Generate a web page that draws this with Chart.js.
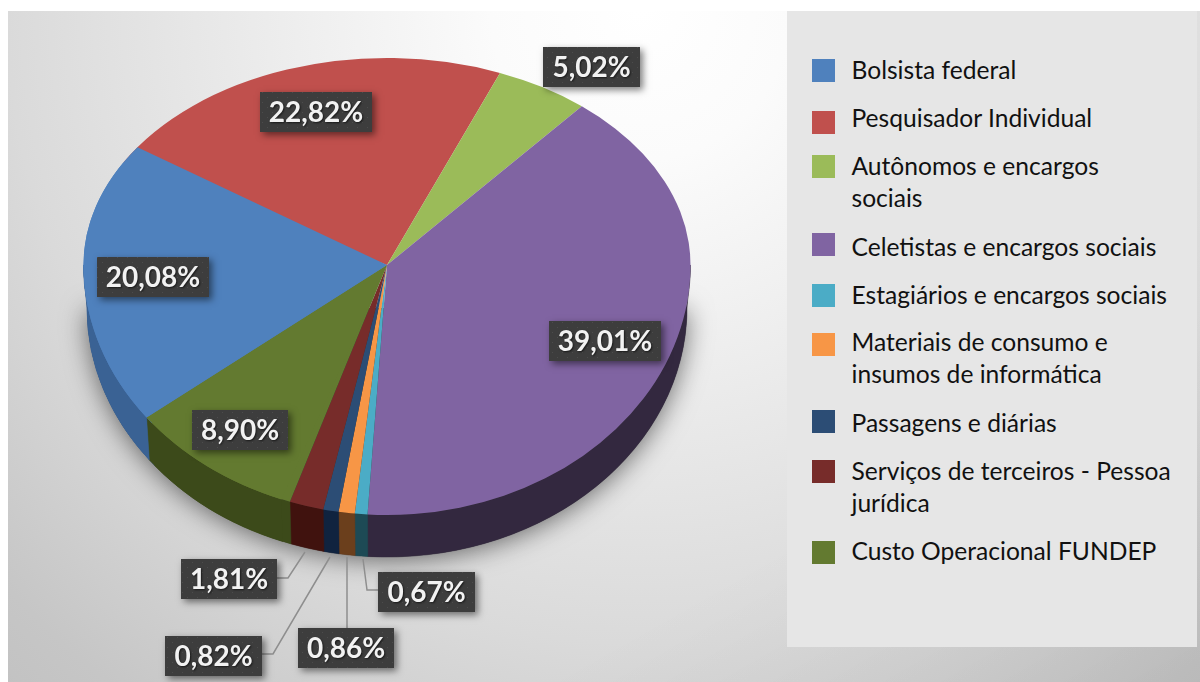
<!DOCTYPE html>
<html>
<head>
<meta charset="utf-8">
<title>Despesas</title>
<script src="https://cdn.jsdelivr.net/npm/chart.js@4"></script>
<style>
  html, body { margin: 0; padding: 0; background: #fff; }
  #wrap { position: relative; width: 1200px; height: 682px; overflow: hidden; }
  #bg { position: absolute; left: 8px; top: 11px; width: 1192px; height: 671px;
        background: linear-gradient(to bottom right, rgba(0,0,0,0) 72%, rgba(0,0,0,0.06) 100%),
                    radial-gradient(circle 930px at 632px 0px, #fff 0%, #fbfbfb 16%, #eee 37%, #dadada 68%, #c6c6c6 92%, #c2c2c2 100%); }
  #pie { position: absolute; left: 0; top: 0; filter: blur(0.4px); }
  #legend { position: absolute; left: 787px; top: 11px; width: 410px; height: 636px; background: #e6e6e6;
            font-family: Lato, sans-serif; font-size: 24.6px; line-height: 32px; color: #111; }
  #legend .txt { position: absolute; left: 64.5px; white-space: pre; }
  #legend .box { position: absolute; left: 25px; width: 23px; height: 23px; }
</style>
</head>
<body>
<div id="wrap">
  <div id="bg"></div>
  <div id="legend"></div>
  <canvas id="pie" width="1200" height="682"></canvas>
</div>
<script>
const categories = ['Bolsista federal', 'Pesquisador Individual', 'Autônomos e encargos\nsociais',
  'Celetistas e encargos sociais', 'Estagiários e encargos sociais',
  'Materiais de consumo e\ninsumos de informática', 'Passagens e diárias',
  'Serviços de terceiros - Pessoa\njurídica', 'Custo Operacional FUNDEP'];
const percentages = [20.08, 22.82, 5.02, 39.01, 0.67, 0.86, 0.82, 1.81, 8.90];

const faceColors = ['#4f81bd', '#c0504d', '#9bbb59', '#8064a2', '#4bacc6', '#f79646', '#2c4d75', '#772c2a', '#637a30'];
const wallColors = ['#3a6294', '#8f3b39', '#748c43', '#33283f', '#1d4a55', '#6b3f1c', '#10233f', '#40120e', '#3c4a1a'];

// caixas dos rotulos: x, y do canto e largura
const labelBoxes = [[97, 257, 112], [260, 92, 112], [543, 47, 97], [549, 321, 112], [378, 572, 97],
  [298, 628, 96], [165, 636, 97], [181, 559, 96], [192, 410, 96]];
const leaderLines = [
  [[363, 559], [367, 590], [378, 590]],
  [[347, 557], [347, 628]],
  [[330, 557], [273, 654], [262, 654]],
  [[305, 552], [288, 578], [277, 578]]
];
const swatchTops = [48, 100, 144, 222, 273, 322, 399, 449, 530];
const textTops = [43, 91, 139, 220, 268, 315, 396, 444, 524];

// legenda
const legend = document.getElementById('legend');
categories.forEach((name, i) => {
  let box = document.createElement('div');
  box.className = 'box';
  box.style.top = swatchTops[i] + 'px';
  box.style.background = faceColors[i];
  legend.appendChild(box);
  let txt = document.createElement('div');
  txt.className = 'txt';
  txt.style.top = textTops[i] + 'px';
  txt.textContent = name;
  legend.appendChild(txt);
});

// geometria da pizza em perspectiva
const RX = 303.5, RY_UP = 207, RY_DOWN = 250;
const WALL_RX = 300, WALL_RY = 249, DEPTH = 43;
// a perspectiva desloca um pouco os angulos; o azul fica no lugar
const TURN_UP = -5 * Math.PI / 180, TURN_DOWN = -1.7 * Math.PI / 180;

function drawShadow(ctx, cx, cy) {
  ctx.save();
  ctx.shadowColor = 'rgba(0,0,0,0.55)';
  ctx.shadowBlur = 26;
  ctx.shadowOffsetY = 3;
  ctx.fillStyle = '#333';
  ctx.beginPath();
  ctx.ellipse(cx, cy + DEPTH, WALL_RX, WALL_RY, 0, 0, Math.PI);
  ctx.closePath();
  ctx.fill();
  ctx.restore();
}

function drawWalls(ctx, arcs, indexes, turn) {
  let cx = arcs[0].x, cy = arcs[0].y;
  indexes.forEach(i => {
    let arc = arcs[i];
    [-2 * Math.PI, 0, 2 * Math.PI].forEach(k => {
      let lo = Math.max(arc.startAngle + turn + k, 0);
      let hi = Math.min(arc.endAngle + turn + k, Math.PI);
      if (lo >= hi) return;
      ctx.beginPath();
      ctx.ellipse(cx, cy, RX, RY_DOWN, 0, lo, hi);
      ctx.ellipse(cx, cy + DEPTH, WALL_RX, WALL_RY, 0, hi, lo, true);
      ctx.closePath();
      ctx.fillStyle = wallColors[i];
      ctx.strokeStyle = wallColors[i];
      ctx.lineWidth = 0.5;
      ctx.fill();
      ctx.stroke();
    });
  });
}

function drawFaceHalf(ctx, arcs, indexes, upper, turn) {
  let cx = arcs[0].x, cy = arcs[0].y, r = arcs[0].outerRadius;
  ctx.save();
  ctx.beginPath();
  ctx.rect(0, upper ? 0 : cy, 1200, upper ? cy : 682 - cy);
  ctx.clip();
  ctx.translate(cx, cy);
  ctx.scale(RX / r, (upper ? RY_UP : RY_DOWN) / r);
  ctx.rotate(turn);
  ctx.translate(-cx, -cy);
  indexes.forEach(i => arcs[i].draw(ctx));
  ctx.restore();
}

function dotPattern(ctx) {
  let tile = document.createElement('canvas');
  tile.width = 10;
  tile.height = 10;
  let t = tile.getContext('2d');
  t.fillStyle = '#3d3d3d';
  t.fillRect(0, 0, 10, 10);
  t.fillStyle = '#4c4c4c';
  t.fillRect(2, 2, 1, 1);
  t.fillRect(7, 7, 1, 1);
  return ctx.createPattern(tile, 'repeat');
}

const pie3d = {
  id: 'pie3d',
  beforeDatasetDraw(chart) {
    let ctx = chart.ctx;
    let arcs = chart.getDatasetMeta(0).data;
    let all = arcs.map((a, i) => i);
    drawShadow(ctx, arcs[0].x, arcs[0].y);
    drawWalls(ctx, arcs, all, TURN_DOWN);
    drawWalls(ctx, arcs, [8, 0], 0);
    drawFaceHalf(ctx, arcs, all, true, TURN_UP);
    drawFaceHalf(ctx, arcs, [0], true, 0);
    drawFaceHalf(ctx, arcs, all, false, TURN_DOWN);
    drawFaceHalf(ctx, arcs, [8, 0], false, 0);
    return false;
  },
  afterDraw(chart) {
    let ctx = chart.ctx;
    ctx.save();
    ctx.strokeStyle = '#8e8e8e';
    ctx.lineWidth = 1.5;
    leaderLines.forEach(line => {
      ctx.beginPath();
      line.forEach((p, i) => i ? ctx.lineTo(p[0], p[1]) : ctx.moveTo(p[0], p[1]));
      ctx.stroke();
    });
    let pattern = dotPattern(ctx);
    percentages.forEach((v, i) => {
      let [x, y, w] = labelBoxes[i];
      ctx.save();
      ctx.shadowColor = 'rgba(0,0,0,0.5)';
      ctx.shadowBlur = 7;
      ctx.shadowOffsetX = 3;
      ctx.shadowOffsetY = 3;
      ctx.fillStyle = '#3d3d3d';
      ctx.fillRect(x, y, w, 40);
      ctx.restore();
      ctx.fillStyle = pattern;
      ctx.fillRect(x, y, w, 40);
      ctx.save();
      ctx.font = 'bold 28px Lato, sans-serif';
      ctx.textAlign = 'center';
      ctx.textBaseline = 'middle';
      ctx.shadowColor = 'rgba(0,0,0,0.6)';
      ctx.shadowBlur = 2;
      ctx.shadowOffsetX = 1;
      ctx.shadowOffsetY = 1;
      ctx.fillStyle = '#f2f2f2';
      ctx.fillText(v.toFixed(2).replace('.', ',') + '%', x + w / 2, y + 21);
      ctx.restore();
    });
    ctx.restore();
  }
};

new Chart(document.getElementById('pie').getContext('2d'), {
  type: 'pie',
  data: {
    labels: categories,
    datasets: [{
      data: percentages,
      backgroundColor: faceColors,
      borderWidth: 0
    }]
  },
  options: {
    responsive: false,
    animation: false,
    rotation: 232.4,
    layout: { padding: { left: 187, right: 613, top: 65, bottom: 217 } },
    plugins: { legend: { display: false }, tooltip: { enabled: false } }
  },
  plugins: [pie3d]
});
</script>
</body>
</html>
